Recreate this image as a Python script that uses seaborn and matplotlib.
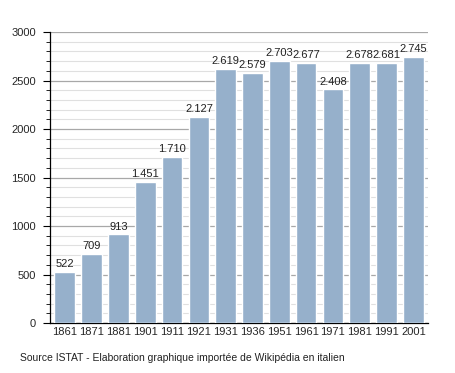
import matplotlib
matplotlib.use("Agg")
import matplotlib.pyplot as plt
import seaborn as sns
import pandas as pd
from matplotlib.ticker import MultipleLocator

years = ["1861", "1871", "1881", "1901", "1911", "1921", "1931", "1936",
         "1951", "1961", "1971", "1981", "1991", "2001"]
population = [522, 709, 913, 1451, 1710, 2127, 2619, 2579, 2703, 2677,
              2408, 2678, 2681, 2745]

df = pd.DataFrame({"year": years, "pop": population})

sns.set_style("white")
plt.rcParams['font.family'] = ['Liberation Sans', 'DejaVu Sans']

fig = plt.figure(figsize=(4.55, 3.73), dpi=100)
ax = fig.add_axes([0.110, 0.134, 0.831, 0.780])

sns.barplot(data=df, x="year", y="pop", order=years, color="#96b0cb",
            saturation=1, width=0.77, ax=ax, zorder=3)

ax.set_ylim(0, 3000)
ax.set_xlim(-0.55, len(years) - 0.45)
ax.yaxis.set_major_locator(MultipleLocator(500))
ax.yaxis.set_minor_locator(MultipleLocator(100))
ax.grid(which="major", axis="y", color="#a8a8a8", linewidth=0.9, linestyle="-", zorder=0)
ax.grid(which="minor", axis="y", color="#e0e0e0", linewidth=0.8, linestyle="-", zorder=0)
ax.set_axisbelow(True)

for s in ["top", "right"]:
    ax.spines[s].set_visible(False)
ax.spines["left"].set_color("black")
ax.spines["bottom"].set_color("black")
ax.spines["left"].set_linewidth(0.9)
ax.spines["bottom"].set_linewidth(0.9)

ax.tick_params(axis="y", which="major", length=5, width=0.8, color="black",
               labelsize=8, left=True, pad=5)
ax.tick_params(axis="y", which="minor", length=3, width=0.6, color="black", left=True)
ax.tick_params(axis="x", length=0, labelsize=8, pad=3)
ax.set_xlabel("")
ax.set_ylabel("")

for i, v in enumerate(population):
    lbl = f"{v:,}".replace(",", ".")
    ax.text(i, v + 30, lbl, ha="center", va="bottom", fontsize=8, color="#222222")

fig.text(0.045, 0.027, "Source ISTAT - Elaboration graphique importée de Wikipédia en italien",
         fontsize=7.5, color="#222222", ha="left", va="bottom")

fig.savefig("out.png", dpi=100)
